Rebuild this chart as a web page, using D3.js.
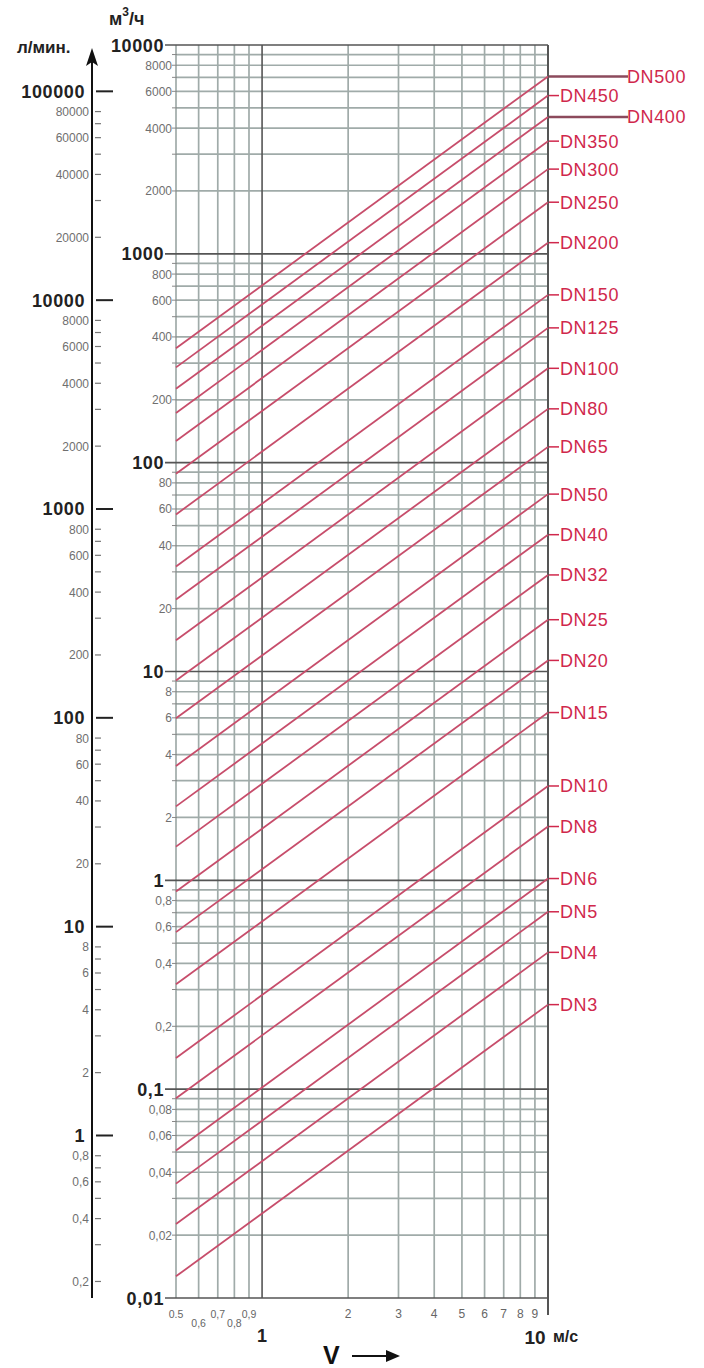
<!DOCTYPE html>
<html>
<head>
<meta charset="utf-8">
<script src="https://cdn.jsdelivr.net/npm/d3@7"></script>
<style>
  body { margin: 0; background: #fff; }
  svg text { font-family: "Liberation Sans", Arial, sans-serif; }
</style>
</head>
<body>
<div id="chart"></div>
<script>
// nominal diameters and flow (m3/h) read at v = 0.5 m/s and v = 10 m/s
const dnNames = ["DN3","DN4","DN5","DN6","DN8","DN10","DN15","DN20","DN25","DN32","DN40","DN50",
  "DN65","DN80","DN100","DN125","DN150","DN200","DN250","DN300","DN350","DN400","DN450","DN500"];
const flowAtLow = [0.0127,0.0226,0.0353,0.0509,0.0905,0.141,0.318,0.565,0.884,1.45,2.26,3.53,
  5.97,9.05,14.1,22.1,31.8,56.5,88.4,127,173,226,286,353];
const flowAtHigh = [0.254,0.452,0.707,1.02,1.81,2.83,6.36,11.3,17.7,29.0,45.2,70.7,
  119,181,283,442,636,1131,1767,2545,3464,4524,5726,7069];
const velLow = 0.5, velHigh = 10;
// labels drawn with a long leader line
const longLeader = ["DN500","DN400"];

// m3/h axis
const qMajor = [0.01,0.1,1,10,100,1000,10000];
const qMajorText = ["0,01","0,1","1","10","100","1000","10000"];
const qGrid = [0.02,0.03,0.04,0.05,0.06,0.07,0.08,0.09,0.2,0.3,0.4,0.5,0.6,0.7,0.8,0.9,
  2,3,4,5,6,7,8,9,20,30,40,50,60,70,80,90,200,300,400,500,600,700,800,900,
  2000,3000,4000,5000,6000,7000,8000,9000];
const qMinorLabels = [0.02,0.04,0.06,0.08,0.2,0.4,0.6,0.8,2,4,6,8,20,40,60,80,
  200,400,600,800,2000,4000,6000,8000];
const qMinorText = ["0,02","0,04","0,06","0,08","0,2","0,4","0,6","0,8","2","4","6","8",
  "20","40","60","80","200","400","600","800","2000","4000","6000","8000"];

// l/min axis
const lpmMajor = [1,10,100,1000,10000,100000];
const lpmLabeled = [0.2,0.4,0.6,0.8,2,4,6,8,20,40,60,80,200,400,600,800,
  2000,4000,6000,8000,20000,40000,60000,80000];
const lpmLabeledText = ["0,2","0,4","0,6","0,8","2","4","6","8","20","40","60","80",
  "200","400","600","800","2000","4000","6000","8000","20000","40000","60000","80000"];
const lpmUnlabeled = [0.3,0.5,0.7,3,5,7,30,50,70,300,500,700,3000,5000,7000,30000,50000,70000];

// velocity axis
const vGrid = [0.5,0.6,0.7,0.8,0.9,2,3,4,5,6,7,8,9];
const vSmall = [0.5,0.6,0.7,0.8,0.9];
const vSmallText = ["0.5","0,6","0,7","0,8","0,9"];
const vInt = [2,3,4,5,6,7,8,9];

const W = 704, H = 1368;
const svg = d3.select("#chart").append("svg").attr("width", W).attr("height", H);

const x = d3.scaleLog().domain([velLow, velHigh]).range([176, 548]);
const y = d3.scaleLog().domain([0.01, 10000]).range([1298, 45]);
// 1 m3/h = 1000/60 l/min
const yL = d3.scaleLog().domain([0.01 * 1000 / 60, 10000 * 1000 / 60]).range([1298, 45]);

const gridCol = "#a0aba9", darkCol = "#555", red = "#d0284c", lineCol = "#c74d6b";

// grid
const grid = svg.append("g");
grid.selectAll(".hg").data(qGrid).enter().append("line")
  .attr("x1", 176).attr("x2", 548)
  .attr("y1", d => y(d)).attr("y2", d => y(d))
  .attr("stroke", gridCol).attr("stroke-width", 1.7);
grid.selectAll(".vg").data(vGrid).enter().append("line")
  .attr("x1", d => x(d)).attr("x2", d => x(d))
  .attr("y1", 45).attr("y2", 1298)
  .attr("stroke", gridCol).attr("stroke-width", 1.7);
grid.selectAll(".hm").data(qMajor).enter().append("line")
  .attr("x1", 165).attr("x2", 548)
  .attr("y1", d => y(d)).attr("y2", d => y(d))
  .attr("stroke", darkCol).attr("stroke-width", 1.6);
grid.append("line")
  .attr("x1", x(1)).attr("x2", x(1)).attr("y1", 45).attr("y2", 1298)
  .attr("stroke", darkCol).attr("stroke-width", 1.6);
grid.append("line")
  .attr("x1", x(10)).attr("x2", x(10)).attr("y1", 45).attr("y2", 1315)
  .attr("stroke", darkCol).attr("stroke-width", 2);

// small ticks on m3/h axis
svg.append("g").selectAll("line").data(qGrid).enter().append("line")
  .attr("x1", 172).attr("x2", 177)
  .attr("y1", d => y(d)).attr("y2", d => y(d))
  .attr("stroke", "#888").attr("stroke-width", 1);

// m3/h labels
svg.append("g").selectAll("text").data(qMajor).enter().append("text")
  .attr("x", 164).attr("y", d => y(d) + 6.5)
  .attr("text-anchor", "end").attr("font-size", 18).attr("font-weight", "bold")
  .attr("letter-spacing", 0.6).attr("fill", "#222")
  .text((d, i) => qMajorText[i]);
svg.append("g").selectAll("text").data(qMinorLabels).enter().append("text")
  .attr("x", 172).attr("y", d => y(d) + 4.5)
  .attr("text-anchor", "end").attr("font-size", 12)
  .attr("fill", "#6f6f6f")
  .text((d, i) => qMinorText[i]);

// DN lines
const line = d3.line().x(d => x(d[0])).y(d => y(d[1]));
svg.append("g").selectAll("path").data(dnNames).enter().append("path")
  .attr("d", (d, i) => line([[velLow, flowAtLow[i]], [velHigh, flowAtHigh[i]]]))
  .attr("fill", "none").attr("stroke", lineCol).attr("stroke-width", 1.8);

// DN labels
const lab = svg.append("g");
dnNames.forEach((d, i) => {
  const yy = y(flowAtHigh[i]);
  const isLong = longLeader.includes(d);
  lab.append("line")
    .attr("x1", 549).attr("x2", isLong ? 628 : 559)
    .attr("y1", yy).attr("y2", yy)
    .attr("stroke", isLong ? "#8c4a5c" : red).attr("stroke-width", isLong ? 2.5 : 1.5);
  lab.append("text")
    .attr("x", isLong ? 627 : 560).attr("y", yy + 6.5)
    .attr("font-size", 18).attr("letter-spacing", 0.6).attr("fill", red)
    .text(d);
});

// l/min axis
const la = svg.append("g");
la.append("line").attr("x1", 92).attr("x2", 92).attr("y1", 1298).attr("y2", 58)
  .attr("stroke", "#111").attr("stroke-width", 2);
la.append("path").attr("d", "M92,48 L86,66 L92,62 L98,66 Z").attr("fill", "#111");
la.selectAll(".mj").data(lpmMajor).enter().append("line")
  .attr("x1", 96).attr("x2", 113)
  .attr("y1", d => yL(d)).attr("y2", d => yL(d))
  .attr("stroke", "#222").attr("stroke-width", 2);
la.selectAll(".mn").data(lpmLabeled.concat(lpmUnlabeled)).enter().append("line")
  .attr("x1", 95).attr("x2", 101)
  .attr("y1", d => yL(d)).attr("y2", d => yL(d))
  .attr("stroke", "#777").attr("stroke-width", 1.2);
la.selectAll(".mjt").data(lpmMajor).enter().append("text")
  .attr("x", 85).attr("y", d => yL(d) + 6.5)
  .attr("text-anchor", "end").attr("font-size", 18).attr("font-weight", "bold")
  .attr("letter-spacing", 0.6).attr("fill", "#222")
  .text(d => String(d));
la.selectAll(".mnt").data(lpmLabeled).enter().append("text")
  .attr("x", 89).attr("y", d => yL(d) + 4.5)
  .attr("text-anchor", "end").attr("font-size", 12)
  .attr("fill", "#6f6f6f")
  .text((d, i) => lpmLabeledText[i]);

// velocity labels
const xl = svg.append("g");
xl.selectAll(".vs").data(vSmall).enter().append("text")
  .attr("x", d => x(d)).attr("y", (d, i) => i % 2 ? 1327 : 1318)
  .attr("text-anchor", "middle").attr("font-size", 10.5)
  .attr("fill", "#666")
  .text((d, i) => vSmallText[i]);
xl.selectAll(".vi").data(vInt).enter().append("text")
  .attr("x", d => x(d)).attr("y", 1318)
  .attr("text-anchor", "middle").attr("font-size", 12)
  .attr("fill", "#666")
  .text(d => d);
xl.append("text").attr("x", x(1)).attr("y", 1342)
  .attr("text-anchor", "middle").attr("font-size", 18).attr("font-weight", "bold")
  .attr("fill", "#222").text("1");
xl.append("text").attr("x", x(10) - 13).attr("y", 1344)
  .attr("text-anchor", "middle").attr("font-size", 19).attr("font-weight", "bold")
  .attr("fill", "#222").text("10");
xl.append("text").attr("x", 553).attr("y", 1342)
  .attr("font-size", 16).attr("font-weight", "bold")
  .attr("fill", "#222").text("м/с");

// V arrow
xl.append("text").attr("x", 323).attr("y", 1364)
  .attr("font-size", 25).attr("font-weight", "bold")
  .attr("fill", "#111").text("V");
xl.append("line").attr("x1", 352).attr("x2", 390).attr("y1", 1356).attr("y2", 1356)
  .attr("stroke", "#111").attr("stroke-width", 2);
xl.append("path").attr("d", "M400,1356 L386,1350 L386,1362 Z").attr("fill", "#111");

// axis titles
svg.append("text").attr("x", 17).attr("y", 53)
  .attr("font-size", 17).attr("font-weight", "bold").attr("fill", "#222").text("л/мин.");
const t = svg.append("text").attr("x", 109).attr("y", 25)
  .attr("font-size", 18).attr("font-weight", "bold").attr("fill", "#222");
t.append("tspan").text("м");
t.append("tspan").attr("dy", -9).attr("font-size", 12).text("3");
t.append("tspan").attr("dy", 9).text("/ч");
</script>
</body>
</html>
